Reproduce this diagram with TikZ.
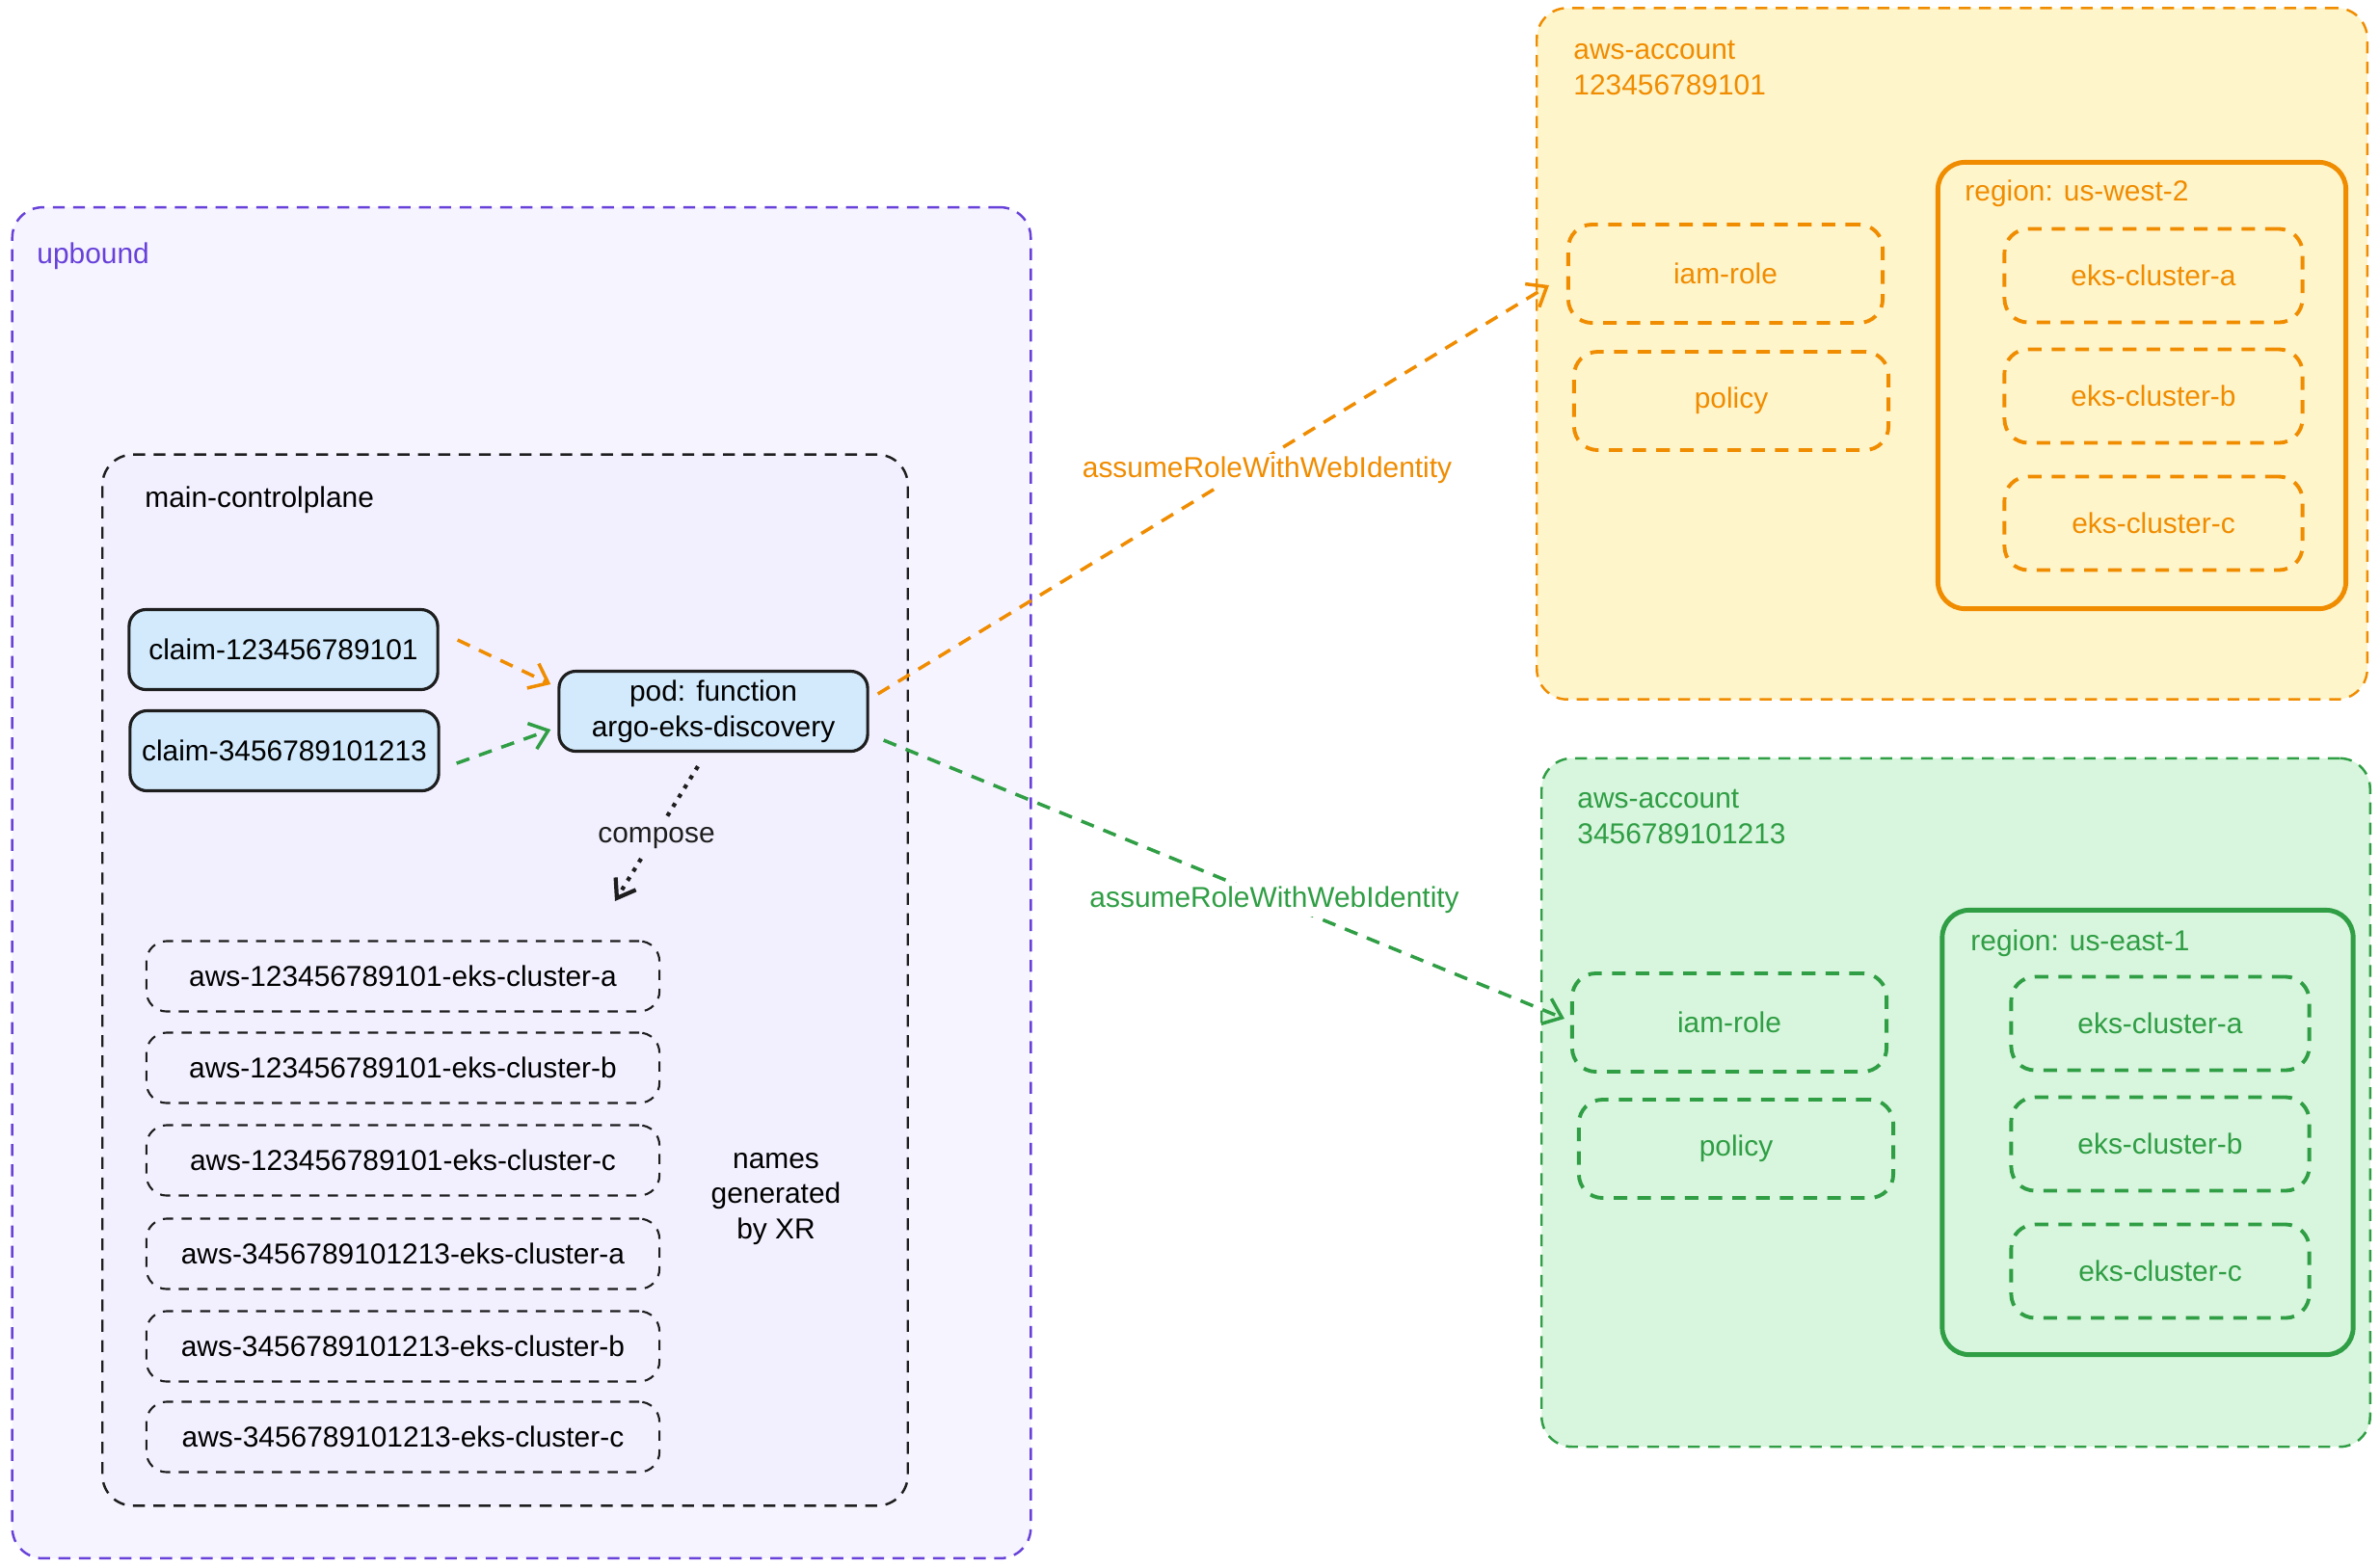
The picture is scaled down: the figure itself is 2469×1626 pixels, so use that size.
\documentclass[tikz,border=0pt]{standalone}
\usepackage{fontspec}
\setmainfont{Liberation Sans}
\definecolor{upviolet}{RGB}{103,65,217}
\definecolor{upfill}{RGB}{246,244,255}
\definecolor{cpfill}{RGB}{242,240,254}
\definecolor{claimfill}{RGB}{210,234,252}
\definecolor{awsorange}{RGB}{240,140,0}
\definecolor{orangefill}{RGB}{255,245,203}
\definecolor{awsgreen}{RGB}{47,158,68}
\definecolor{greenfill}{RGB}{216,245,221}
\definecolor{inkblack}{RGB}{30,30,30}
\usetikzlibrary{arrows.meta}

\begin{document}
\begin{tikzpicture}[
  x=0.01cm,y=-0.01cm,
  every node/.style={font=\fontsize{8.5}{10.5}\selectfont},
  bigbox/.style={rounded corners=9pt,dash pattern=on 3.5pt off 2.5pt,line width=0.7pt},
  solidbox/.style={draw=inkblack,fill=claimfill,rounded corners=5pt,line width=0.9pt,
                   align=center,minimum width=3.2cm,minimum height=0.83cm},
  namebox/.style={draw=inkblack,dash pattern=on 3pt off 2.5pt,line width=0.6pt,
                  rounded corners=6pt,minimum width=5.32cm,minimum height=0.73cm},
  resbox/.style={dash pattern=on 4pt off 3pt,line width=1.1pt,rounded corners=7pt,
                 minimum width=3.26cm,minimum height=1.02cm},
  eksbox/.style={resbox,minimum width=3.09cm,minimum height=0.97cm},
  regionbox/.style={rounded corners=8pt,line width=1.4pt},
  tag/.style={anchor=north west,align=left},
  flow/.style={-{Straight Barb[length=5pt,width=8pt]},line width=1pt,dash pattern=on 4pt off 3pt},
]
  \useasboundingbox (0,0) rectangle (2469,1626);

  % Upbound
  \node[bigbox,draw=upviolet,fill=upfill,minimum width=10.56cm,minimum height=14.01cm] (upbound) at (541,916) {};
  \node[tag,text=upviolet] (uplabel) at (26,239) {upbound};

  % Control plane
  \node[bigbox,draw=inkblack,fill=cpfill,minimum width=8.35cm,minimum height=10.9cm] (cp) at (524,1017) {};
  \node[tag] (cplabel) at (138,492) {main-controlplane};

  \node[solidbox] (claim1) at (294,674) {claim-123456789101};
  \node[solidbox] (claim2) at (295,779) {claim-3456789101213};
  \node[solidbox,inner ysep=2pt] (pod) at (740,738) {pod: function\\argo-eks-discovery};

  \draw[flow,awsorange] ([xshift=0.19cm,yshift=0.1cm]claim1.east) -- ([xshift=-0.07cm,yshift=0.28cm]pod.west);
  \draw[flow,awsgreen] ([xshift=0.17cm,yshift=-0.13cm]claim2.east) -- ([xshift=-0.07cm,yshift=-0.19cm]pod.west);

  % Generated names
  \foreach \nm/\yy [count=\i] in {123456789101-eks-cluster-a/1013,123456789101-eks-cluster-b/1108,
      123456789101-eks-cluster-c/1204,3456789101213-eks-cluster-a/1301,
      3456789101213-eks-cluster-b/1397,3456789101213-eks-cluster-c/1491}
    \node[namebox] (name\i) at (418,\yy) {aws-\nm};
  \node[align=center] (xrnote) at (805,1244) {names\\generated\\by XR};

  \coordinate (composeend) at (638,935);
  \draw[-{Straight Barb[length=5pt,width=7pt]},line width=1.2pt,dotted,inkblack]
    ([xshift=-0.16cm,yshift=-0.14cm]pod.south) -- node[fill=cpfill,inner sep=2pt,yshift=-0.04cm] (composelabel) {compose} (composeend);

  % Account 123456789101
  \node[bigbox,draw=awsorange,fill=orangefill,minimum width=8.61cm,minimum height=7.17cm] (acct1) at (2025,367) {};
  \node[tag,text=awsorange] (acct1label) at (1620,30) {aws-account\\123456789101};
  \node[regionbox,draw=awsorange,minimum width=4.23cm,minimum height=4.63cm] (region1) at (2222,400) {};
  \node[tag,text=awsorange] (region1label) at (2026,174) {region: us-west-2};
  \node[resbox,draw=awsorange,text=awsorange] (iam1) at (1790,284) {iam-role};
  \node[resbox,draw=awsorange,text=awsorange] (policy1) at (1796,416) {policy};
  \foreach \c/\yy in {a/286,b/411,c/543}
    \node[eksbox,draw=awsorange,text=awsorange] (eks1\c) at (2234,\yy) {eks-cluster-\c};

  % Account 3456789101213
  \node[bigbox,draw=awsgreen,fill=greenfill,minimum width=8.59cm,minimum height=7.14cm] (acct2) at (2029,1144) {};
  \node[tag,text=awsgreen] (acct2label) at (1624,807) {aws-account\\3456789101213};
  \node[regionbox,draw=awsgreen,minimum width=4.26cm,minimum height=4.61cm] (region2) at (2228,1175) {};
  \node[tag,text=awsgreen] (region2label) at (2032,952) {region: us-east-1};
  \node[resbox,draw=awsgreen,text=awsgreen] (iam2) at (1794,1061) {iam-role};
  \node[resbox,draw=awsgreen,text=awsgreen] (policy2) at (1801,1192) {policy};
  \foreach \c/\yy in {a/1062,b/1187,c/1319}
    \node[eksbox,draw=awsgreen,text=awsgreen] (eks2\c) at (2241,\yy) {eks-cluster-\c};

  % Assume role
  \draw[flow,awsorange] ([xshift=0.09cm,yshift=0.18cm]pod.east) --
    node[pos=0.58,fill=white,inner sep=1pt,yshift=-0.14cm] (assume1) {assumeRoleWithWebIdentity}
    ([xshift=-0.18cm,yshift=-0.12cm]iam1.west);
  \draw[flow,awsgreen] ([xshift=0.15cm,yshift=-0.3cm]pod.east) --
    node[pos=0.574,fill=white,inner sep=1pt] (assume2) {assumeRoleWithWebIdentity}
    ([xshift=-0.06cm,yshift=0.04cm]iam2.west);
\end{tikzpicture}
\end{document}
